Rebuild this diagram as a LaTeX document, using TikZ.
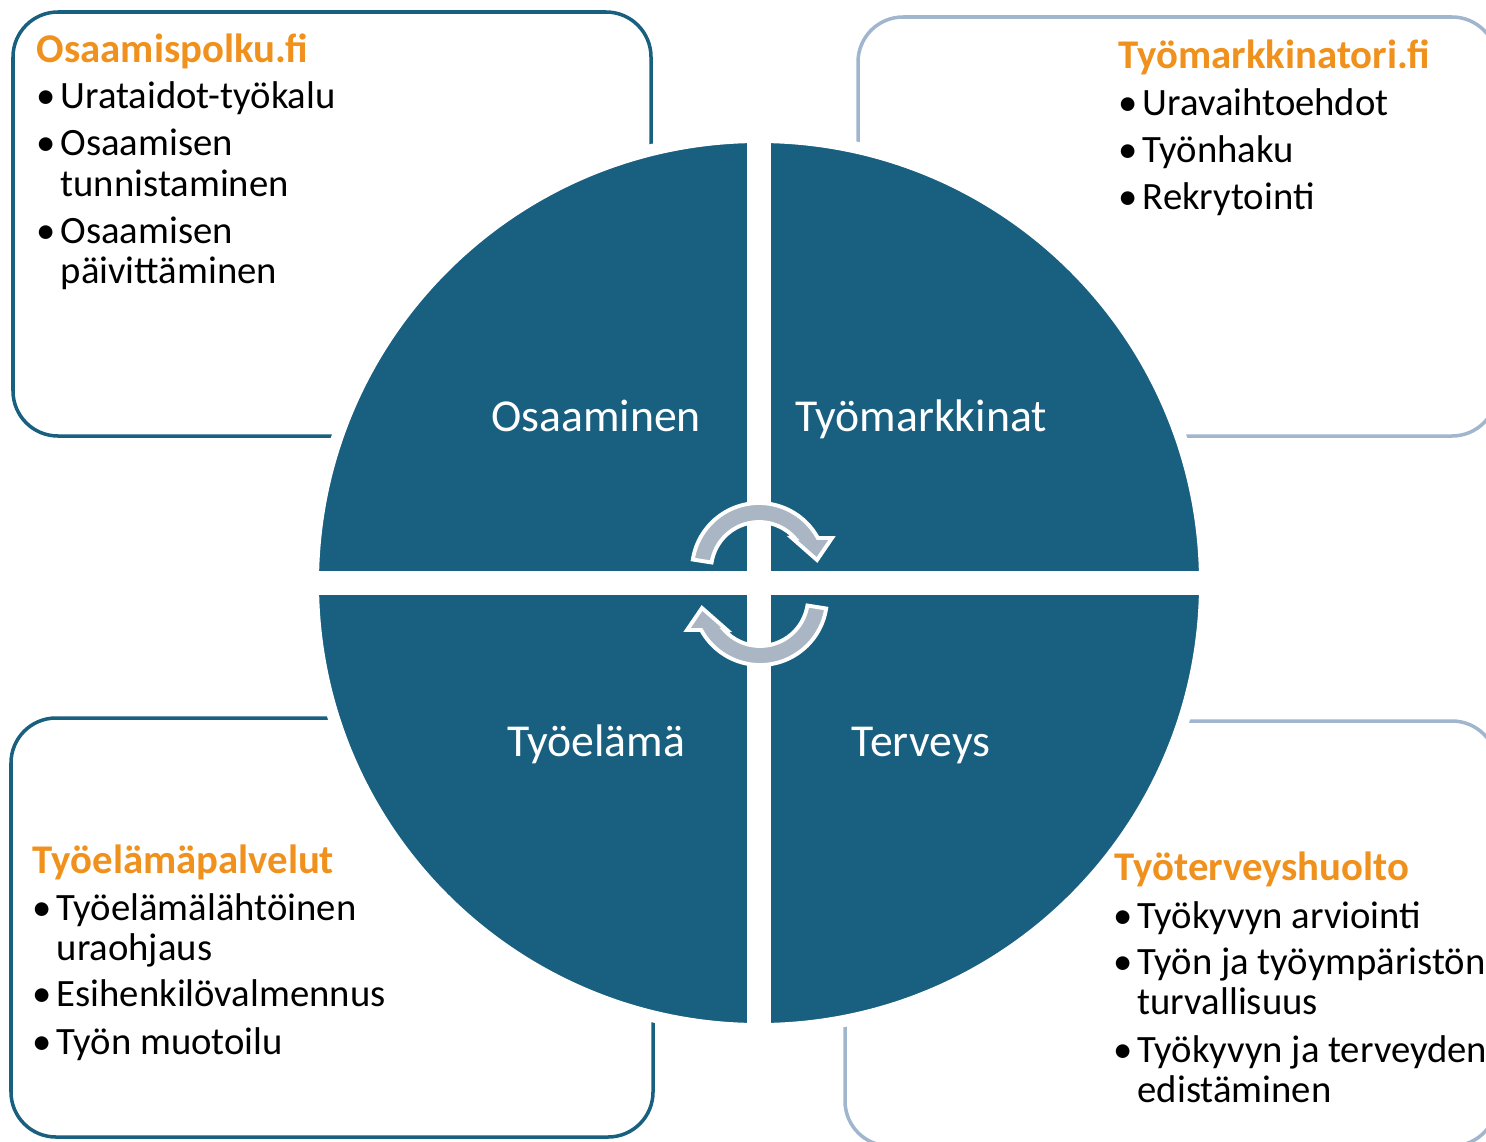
\documentclass[tikz,border=0pt]{standalone}
\usepackage{fontspec}
\setmainfont{Carlito}

\definecolor{lohko}{RGB}{24,95,128}
\definecolor{oranssi}{RGB}{239,145,28}
\definecolor{kehys}{RGB}{160,182,206}
\definecolor{nuoli}{RGB}{170,182,196}

\tikzset{
	tummakehys/.style={draw=lohko, line width=1pt, rounded corners=0.45cm},
	vaaleakehys/.style={draw=kehys, line width=1pt, rounded corners=0.45cm},
	otsikko/.style={anchor=base west, inner sep=0pt, text=oranssi, font=\fontsize{11.6}{13}\selectfont\bfseries},
	rivi/.style={anchor=base west, inner sep=0pt, font=\fontsize{11}{13}\selectfont},
	lohkoteksti/.style={anchor=base, inner sep=0pt, text=white, font=\fontsize{13}{15}\selectfont},
	kiertonuoli/.style={fill=nuoli, draw=white, line width=1.1pt},
}
% luettelomerkki rivin eteen
\newcommand{\pallo}{\makebox[0pt][r]{\textbullet\hspace{0.14em}}}
% kaareva nuoli keskipisteen ympari
\newcommand{\nuolipolku}{(171:67) arc[start angle=171, end angle=28.5, radius=67] -- (73,32) -- (58,10) -- (33,32) -- (41.6:48) arc[start angle=41.6, end angle=171, radius=48] -- cycle}

\begin{document}
\begin{tikzpicture}[x=0.01cm, y=0.01cm]
	\useasboundingbox (0,0) rectangle (1486,1141);

	% kehykset
	\draw[tummakehys] (13,705) rectangle (651,1129);
	\draw[vaaleakehys] (858,705) rectangle (1497,1124);
	\draw[tummakehys] (11,4) rectangle (653,423);
	\draw[vaaleakehys] (845,-5) rectangle (1497,420);

	% ympyra ja raot
	\fill[lohko, draw=white, line width=0.12cm] (759,558) circle[radius=446];
	\fill[white] (747,100) rectangle (771,1016);
	\fill[white] (300,546) rectangle (1218,570);

	\node[lohkoteksti] (osaaminen) at (596,710) {Osaaminen};
	\node[lohkoteksti] (tyomarkkinat) at (921,710) {Työmarkkinat};
	\node[lohkoteksti] (tyoelama) at (596,385) {Työelämä};
	\node[lohkoteksti] (terveys) at (921,385) {Terveys};

	% vasen ylakulma
	\node[otsikko] (polku) at (36,1079) {Osaamispolku.fi};
	\node[rivi] (polku1) at (60,1033) {\pallo Urataidot-työkalu};
	\node[rivi] (polku2) at (60,986) {\pallo Osaamisen};
	\node[rivi] (polku2b) at (60,945) {tunnistaminen};
	\node[rivi] (polku3) at (60,898) {\pallo Osaamisen};
	\node[rivi] (polku3b) at (60,858) {päivittäminen};

	% oikea ylakulma
	\node[otsikko] (tori) at (1118,1073) {Työmarkkinatori.fi};
	\node[rivi] (tori1) at (1142,1026) {\pallo Uravaihtoehdot};
	\node[rivi] (tori2) at (1142,979) {\pallo Työnhaku};
	\node[rivi] (tori3) at (1142,932) {\pallo Rekrytointi};

	% vasen alakulma
	\node[otsikko] (palvelut) at (32,268) {Työelämäpalvelut};
	\node[rivi] (palvelut1) at (56,221) {\pallo Työelämälähtöinen};
	\node[rivi] (palvelut1b) at (56,181) {uraohjaus};
	\node[rivi] (palvelut2) at (56,135) {\pallo Esihenkilövalmennus};
	\node[rivi] (palvelut3) at (56,87) {\pallo Työn muotoilu};

	% oikea alakulma
	\node[otsikko] (huolto) at (1114,261) {Työterveyshuolto};
	\node[rivi] (huolto1) at (1137,213) {\pallo Työkyvyn arviointi};
	\node[rivi] (huolto2) at (1137,167) {\pallo Työn ja työympäristön};
	\node[rivi] (huolto2b) at (1137,127) {turvallisuus};
	\node[rivi] (huolto3) at (1137,79) {\pallo Työkyvyn ja terveyden};
	\node[rivi] (huolto3b) at (1137,39) {edistäminen};

	% kiertonuolet
	\begin{scope}[shift={(759,571)}]
		\draw[kiertonuoli] \nuolipolku;
	\end{scope}
	\begin{scope}[shift={(760,543)}, rotate=180]
		\draw[kiertonuoli] \nuolipolku;
	\end{scope}
\end{tikzpicture}
\end{document}
